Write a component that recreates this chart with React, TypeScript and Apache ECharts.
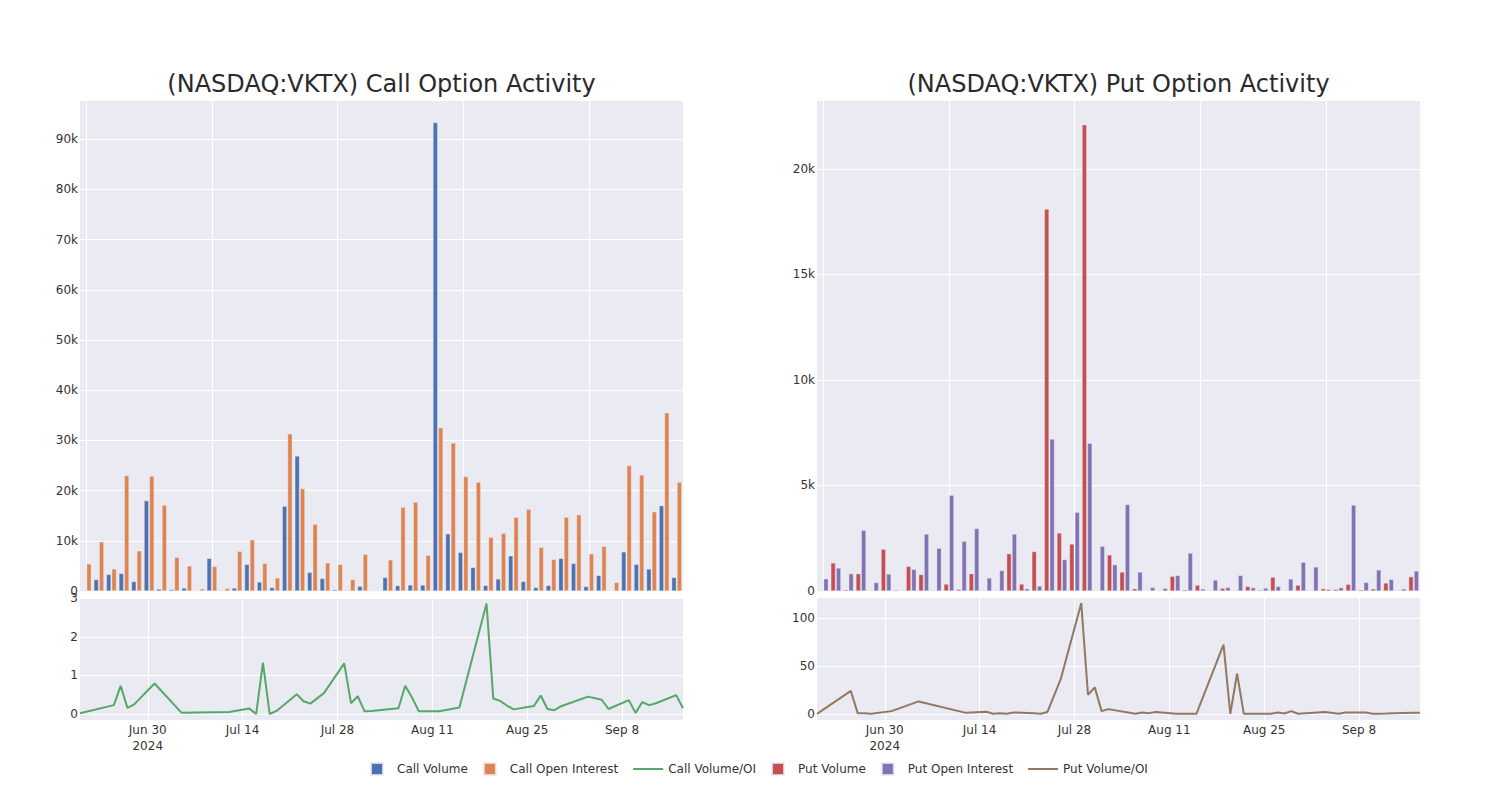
import React, { useEffect, useRef } from "react";
import * as echarts from "echarts";

// Trading dates present in the data
const dates = [
  "2024-06-20", "2024-06-25", "2024-06-26", "2024-06-27", "2024-06-28",
  "2024-07-01", "2024-07-05", "2024-07-12", "2024-07-15", "2024-07-16",
  "2024-07-17", "2024-07-18", "2024-07-19", "2024-07-22", "2024-07-23",
  "2024-07-24", "2024-07-26", "2024-07-29", "2024-07-30", "2024-07-31",
  "2024-08-01", "2024-08-02", "2024-08-06", "2024-08-07", "2024-08-08",
  "2024-08-09", "2024-08-12", "2024-08-15", "2024-08-19", "2024-08-20",
  "2024-08-21", "2024-08-22", "2024-08-23", "2024-08-26", "2024-08-27",
  "2024-08-28", "2024-08-29", "2024-08-30", "2024-09-03", "2024-09-05",
  "2024-09-06", "2024-09-09", "2024-09-10", "2024-09-11", "2024-09-12",
  "2024-09-13", "2024-09-16", "2024-09-17",
];

const callVolume = [
  100, 2300, 3300, 3500, 1900, 18000, 400, 300, 600, 0,
  6500, 0, 600, 5300, 1800, 700, 16900, 26900, 3700, 2500,
  270, 150, 950, 40, 2700, 1070, 1200, 1200, 93300, 11400,
  7700, 4700, 1100, 2400, 7000, 1900, 700, 1100, 6500, 5500,
  900, 3100, 30, 7800, 5300, 4400, 17000, 2700,
];
const callOpenInterest = [
  5400, 9800, 4400, 23000, 8000, 22900, 17100, 6700, 5000, 400,
  4900, 500, 7900, 10200, 5500, 2600, 31300, 20400, 13300, 5600,
  5300, 2300, 7300, 55, 6200, 16700, 17700, 7100, 32500, 29500,
  22800, 21700, 10700, 11500, 14700, 16300, 8700, 6300, 14700, 15200,
  7400, 8900, 1700, 25000, 23100, 15800, 35500, 21700,
];
const callVolOI = [
  0.02, 0.23, 0.73, 0.16, 0.25, 0.79, 0.03, 0.05, 0.14, 0,
  1.33, 0, 0.08, 0.51, 0.33, 0.27, 0.54, 1.31, 0.28, 0.46,
  0.07, 0.08, 0.15, 0.73, 0.43, 0.07, 0.07, 0.17, 2.86, 0.4,
  0.34, 0.22, 0.12, 0.21, 0.48, 0.13, 0.1, 0.2, 0.45, 0.37,
  0.13, 0.36, 0.03, 0.31, 0.23, 0.28, 0.49, 0.15,
];
const putVolume = [
  0, 1330, 60, 820, 20, 1980, 50, 1170, 780, 10,
  330, 80, 820, 30, 30, 1770, 330, 1870, 18100, 2750,
  2230, 22100, 20, 1710, 900, 110, 20, 10, 700, 60,
  280, 10, 130, 10, 220, 50, 660, 20, 280, 20,
  110, 80, 320, 60, 100, 380, 30, 680,
];
const putOpenInterest = [
  580, 1090, 820, 2880, 400, 810, 30, 1030, 2700, 2030,
  4540, 2360, 2960, 620, 970, 2700, 110, 240, 7200, 1490,
  3730, 7000, 2120, 1250, 4100, 900, 170, 130, 740, 1800,
  100, 520, 170, 740, 160, 140, 220, 570, 1360, 1140,
  80, 160, 4070, 410, 1000, 550, 100, 950,
];
const putVolOI = [
  0, 24, 0.7, 0.5, 0, 2.8, 13, 1, 2.1, 0,
  0.7, 0, 1.4, 0.7, 0, 1.8, 37, 116, 20, 27.7,
  2.8, 4.9, 0, 1.4, 0.7, 1.8, 0, 0, 72.6, 0,
  42, 0, 0, 0, 1.4, 0.3, 2.8, 0, 1.8, 0,
  1.4, 1.4, 0, 0, 0.3, 0.7, 1, 1,
];

const tickDates = ["2024-06-30", "2024-07-14", "2024-07-28", "2024-08-11", "2024-08-25", "2024-09-08"];
const tickLabels = ["Jun 30\n2024", "Jul 14", "Jul 28", "Aug 11", "Aug 25", "Sep 8"];

const COLORS = {
  callVol: "rgb(76,114,176)",
  callOI: "rgb(221,132,82)",
  callRatio: "rgb(85,168,104)",
  putVol: "rgb(196,78,82)",
  putOI: "rgb(129,114,179)",
  putRatio: "rgb(147,120,96)",
};

const FONT = "'DejaVu Sans', Verdana, sans-serif";
const TEXT = "#333";
const BG = "#EAEAF2";

function dayRange(start: string, end: string): string[] {
  const out: string[] = [];
  const d = new Date(start + "T00:00:00Z");
  const e = new Date(end + "T00:00:00Z");
  while (d.getTime() <= e.getTime()) {
    out.push(d.toISOString().slice(0, 10));
    d.setUTCDate(d.getUTCDate() + 1);
  }
  return out;
}

const days = dayRange(dates[0], dates[dates.length - 1]);

const kFmt = (v: number) => (v === 0 ? "0" : `${Math.round(v / 1000)}k`);

export default function App() {
  const ref = useRef<HTMLDivElement>(null);

  useEffect(() => {
    if (!ref.current) return;
    const chart = echarts.init(ref.current, undefined, { renderer: "svg" });

    const gridBase = { show: true, backgroundColor: BG, borderWidth: 0, containLabel: false };
    const splitWhite = { show: true, lineStyle: { color: "#fff", width: 1 } };
    const yLabel = { color: TEXT, fontSize: 12, fontFamily: FONT, margin: 2 };

    const catTop = (gridIndex: number) => ({
      type: "category",
      gridIndex,
      data: dates,
      boundaryGap: true,
      axisLine: { show: false },
      axisTick: { show: false, alignWithLabel: true },
      axisLabel: { show: false },
      splitLine: {
        ...splitWhite,
        alignWithLabel: true,
        interval: (i: number) => i % 10 === 0,
      },
    });
    const isTick = (_i: number, v: string) => tickDates.indexOf(v) >= 0;
    const dayAxis = (gridIndex: number) => ({
      type: "category",
      gridIndex,
      data: days,
      boundaryGap: false,
      axisLine: { show: false },
      axisTick: { show: false },
      axisLabel: {
        interval: isTick,
        formatter: (v: string) => {
          const k = tickDates.indexOf(v);
          return k >= 0 ? tickLabels[k] : "";
        },
        color: TEXT,
        fontSize: 12,
        fontFamily: FONT,
        margin: 2,
        lineHeight: 16,
      },
      splitLine: { ...splitWhite, interval: isTick },
    });

    const barCommon = {
      type: "bar",
      barCategoryGap: "20%",
      barGap: "15%",
      itemStyle: { borderColor: "rgba(234,234,242,0.8)", borderWidth: 0.5 },
    };

    chart.setOption({
      animation: false,
      textStyle: { fontFamily: FONT },
      grid: [
        { ...gridBase, left: 80, top: 100, width: 603, height: 491 },
        { ...gridBase, left: 80, top: 597, width: 603, height: 123 },
        { ...gridBase, left: 817, top: 100, width: 603, height: 491 },
        { ...gridBase, left: 817, top: 597, width: 603, height: 123 },
      ],
      xAxis: [catTop(0), dayAxis(1), catTop(2), dayAxis(3)],
      yAxis: [
        {
          type: "value", gridIndex: 0, min: 0, max: 97800, interval: 10000,
          axisLine: { show: false }, axisTick: { show: false },
          axisLabel: { ...yLabel, formatter: kFmt, showMaxLabel: false },
          splitLine: splitWhite,
        },
        {
          type: "value", gridIndex: 1, min: -0.155, max: 3.03, minInterval: 1, maxInterval: 1,
          axisLine: { show: false }, axisTick: { show: false },
          axisLabel: { ...yLabel, showMinLabel: false, showMaxLabel: false },
          splitLine: splitWhite,
        },
        {
          type: "value", gridIndex: 2, min: 0, max: 23270, interval: 5000,
          axisLine: { show: false }, axisTick: { show: false },
          axisLabel: { ...yLabel, formatter: kFmt, showMaxLabel: false },
          splitLine: splitWhite,
        },
        {
          type: "value", gridIndex: 3, min: -6.5, max: 122.5, minInterval: 50, maxInterval: 50,
          axisLine: { show: false }, axisTick: { show: false },
          axisLabel: { ...yLabel, showMinLabel: false, showMaxLabel: false },
          splitLine: splitWhite,
        },
      ],
      legend: {
        left: 365,
        top: 757,
        itemWidth: 30,
        itemHeight: 12,
        itemGap: 15,
        textStyle: { color: TEXT, fontSize: 12, fontFamily: FONT },
        data: [
          { name: "Call Volume", icon: "path://M0,0h10v10h-10z" },
          { name: "Call Open Interest", icon: "path://M0,0h10v10h-10z" },
          { name: "Call Volume/OI", icon: "path://M0,0h30v2h-30z" },
          { name: "Put Volume", icon: "path://M0,0h10v10h-10z" },
          { name: "Put Open Interest", icon: "path://M0,0h10v10h-10z" },
          { name: "Put Volume/OI", icon: "path://M0,0h30v2h-30z" },
        ],
      },
      graphic: [
        {
          type: "text", x: 381.5, y: 84,
          style: {
            text: "(NASDAQ:VKTX) Call Option Activity", fill: "#2a2a2a",
            font: `24px ${FONT}`, textAlign: "center", textVerticalAlign: "middle",
          },
        },
        {
          type: "text", x: 1118.5, y: 84,
          style: {
            text: "(NASDAQ:VKTX) Put Option Activity", fill: "#2a2a2a",
            font: `24px ${FONT}`, textAlign: "center", textVerticalAlign: "middle",
          },
        },
      ],
      series: [
        { ...barCommon, name: "Call Volume", xAxisIndex: 0, yAxisIndex: 0, data: callVolume,
          itemStyle: { ...barCommon.itemStyle, color: COLORS.callVol } },
        { ...barCommon, name: "Call Open Interest", xAxisIndex: 0, yAxisIndex: 0, data: callOpenInterest,
          itemStyle: { ...barCommon.itemStyle, color: COLORS.callOI } },
        {
          type: "line", name: "Call Volume/OI", xAxisIndex: 1, yAxisIndex: 1,
          data: dates.map((d, i) => [d, callVolOI[i]]),
          showSymbol: false, symbol: "none",
          lineStyle: { color: COLORS.callRatio, width: 2 },
          itemStyle: { color: COLORS.callRatio },
        },
        { ...barCommon, name: "Put Volume", xAxisIndex: 2, yAxisIndex: 2, data: putVolume,
          itemStyle: { ...barCommon.itemStyle, color: COLORS.putVol } },
        { ...barCommon, name: "Put Open Interest", xAxisIndex: 2, yAxisIndex: 2, data: putOpenInterest,
          itemStyle: { ...barCommon.itemStyle, color: COLORS.putOI } },
        {
          type: "line", name: "Put Volume/OI", xAxisIndex: 3, yAxisIndex: 3,
          data: dates.map((d, i) => [d, putVolOI[i]]),
          showSymbol: false, symbol: "none",
          lineStyle: { color: COLORS.putRatio, width: 2 },
          itemStyle: { color: COLORS.putRatio },
        },
      ],
    });

    return () => chart.dispose();
  }, []);

  return (
    <div
      ref={ref}
      style={{ position: "fixed", left: 0, top: 0, width: 1500, height: 800, background: "#fff" }}
    />
  );
}
